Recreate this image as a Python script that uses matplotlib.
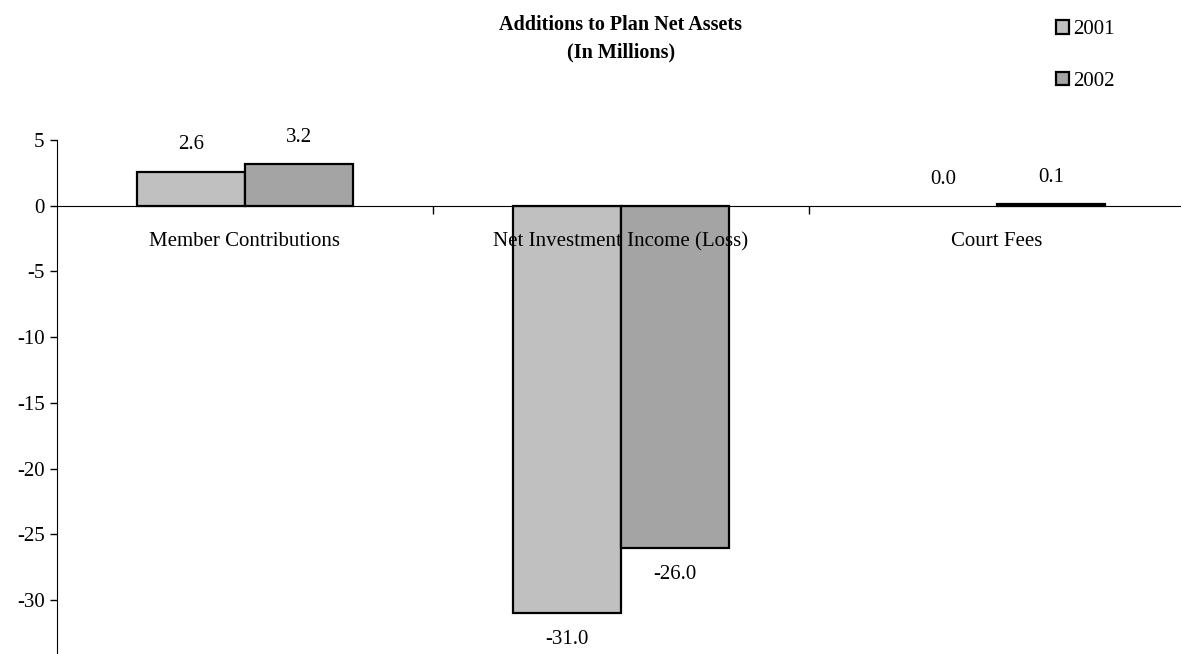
import matplotlib
matplotlib.use("Agg")
import matplotlib.pyplot as plt
import matplotlib.patches as mpatches
import numpy as np

plt.rcParams["font.family"] = ["Liberation Serif", "DejaVu Serif"]

categories = ["Member Contributions", "Net Investment Income (Loss)", "Court Fees"]
years = ["2001", "2002"]
vals_2001 = [2.6, -31.0, 0.0]
vals_2002 = [3.2, -26.0, 0.1]
colors = ["#C0C0C0", "#A4A4A4"]

W, H = 1181, 654
fig = plt.figure(figsize=(W / 100, H / 100), dpi=100)
ax = fig.add_axes([57 / W, 0, (1185 - 57) / W, 1 - 140 / H])

x = np.arange(len(categories))
bw = 0.288
fs = 15
for i, (vals, col) in enumerate(zip([vals_2001, vals_2002], colors)):
    pos = x + (i - 0.5) * bw
    edges = ["black" if v != 0 else "none" for v in vals]
    ax.bar(pos, vals, bw, color=col, edgecolor=edges, linewidth=1.6, zorder=2)
    for px, v in zip(pos, vals):
        if v >= 0:
            ax.text(px, v + 1.3, f"{v:.1f}", ha="center", va="bottom", fontsize=fs)
        else:
            ax.text(px, v - 1.3, f"{v:.1f}", ha="center", va="top", fontsize=fs)

ax.set_xlim(-0.5, 2.5)
ax.set_ylim(-34.1, 5)
ax.set_yticks([5, 0, -5, -10, -15, -20, -25, -30])
ax.set_yticklabels(["5", "0", "-5", "-10", "-15", "-20", "-25", "-30"])
ax.tick_params(axis="y", direction="out", length=5, width=1, labelsize=fs, pad=4)

ax.spines["top"].set_visible(False)
ax.spines["right"].set_visible(False)
ax.spines["bottom"].set_position(("data", 0))
ax.spines["bottom"].set_zorder(4)

ax.set_xticks([0.5, 1.5])
ax.set_xticklabels(["", ""])
ax.tick_params(axis="x", which="major", direction="out", length=6, width=1)
ax.set_xticks(x, minor=True)
ax.set_xticklabels(categories, minor=True)
ax.tick_params(axis="x", which="minor", length=0, labelsize=fs, pad=19)
ax.xaxis.set_zorder(5)

fig.text(621 / W, 1 - 25 / H, "Additions to Plan Net Assets", ha="center", va="center",
         fontsize=14.5, fontweight="bold")
fig.text(621 / W, 1 - 52 / H, "(In Millions)", ha="center", va="center",
         fontsize=14.5, fontweight="bold")

handles = [mpatches.Patch(facecolor=c, edgecolor="black", linewidth=1.6) for c in colors]
fig.legend(handles, years, loc="upper left", bbox_to_anchor=(1048 / W, 1 - 12 / H),
           frameon=False, fontsize=fs, handlelength=0.6, handleheight=0.6,
           handletextpad=0.2, labelspacing=1.55, borderaxespad=0)

fig.savefig("out.png", dpi=100)
